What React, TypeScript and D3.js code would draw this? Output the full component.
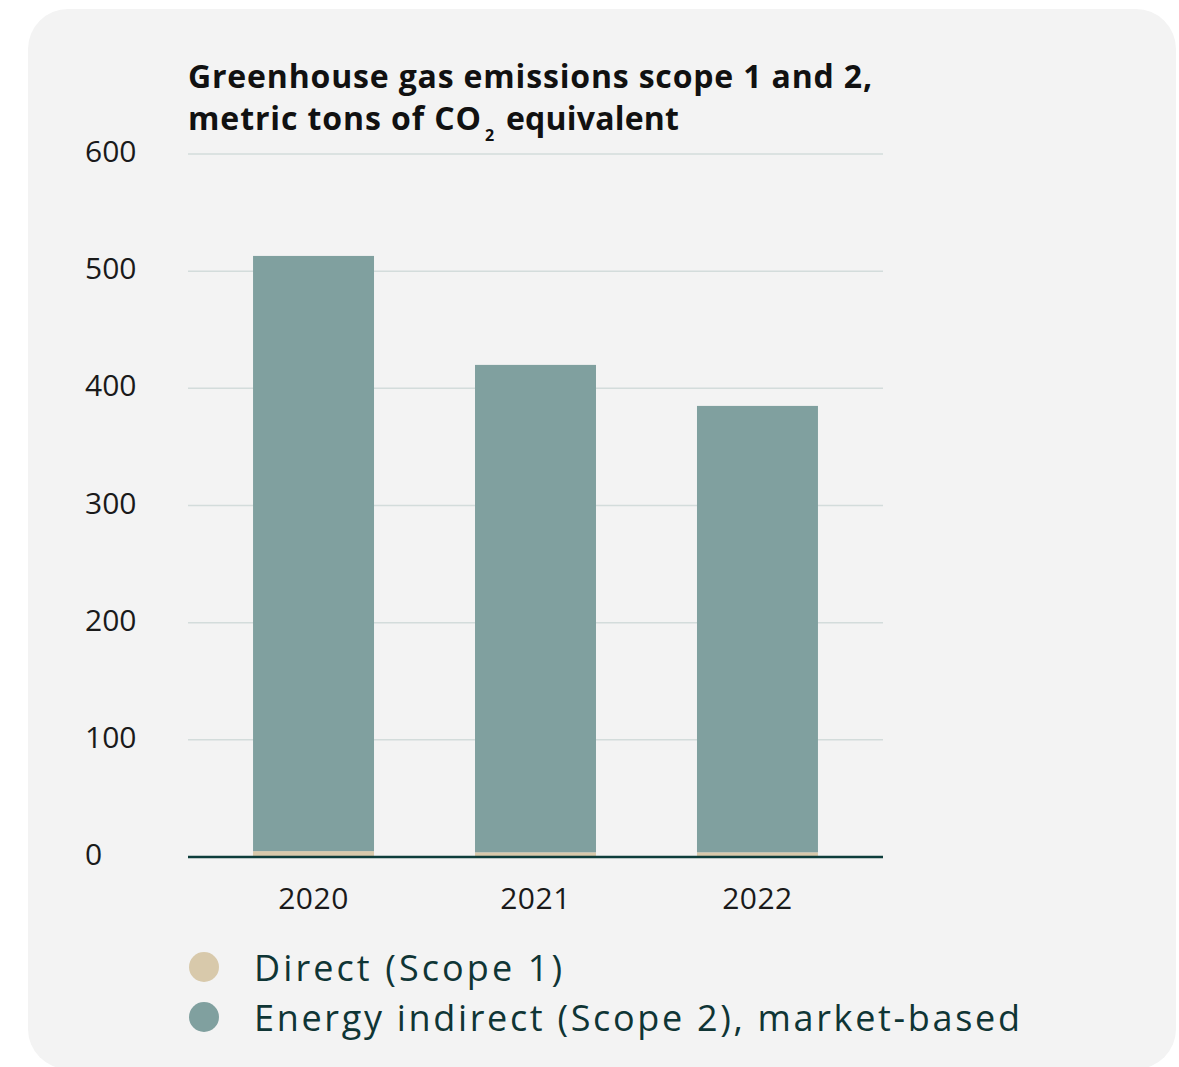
import React from "react";
import * as d3 from "d3";

const years = ["2020", "2021", "2022"];
const scope1 = [5, 4, 4];
const scope2 = [508, 416, 381];
const yTicks = [0, 100, 200, 300, 400, 500, 600];
const seriesNames = ["Direct (Scope 1)", "Energy indirect (Scope 2), market-based"];
const seriesColors = ["#d8c9ab", "#80a09f"];
const legendWidths = [308, 766];

const W = 1179;
const H = 1067;
const FONT = "'Open Sans', Lato, sans-serif";

export default function App() {
  const x = d3
    .scaleBand<string>()
    .domain(years)
    .range([188, 883])
    .paddingInner(0.455)
    .paddingOuter(0.293);
  const y = d3.scaleLinear().domain([0, 600]).range([857, 154]);

  const rows = years.map((yr, i) => ({ year: yr, s1: scope1[i], s2: scope2[i] }));
  const stack = d3.stack<any>().keys(["s1", "s2"])(rows);

  return (
    <svg
      width={W}
      height={H}
      style={{ position: "absolute", left: 0, top: 0, display: "block", background: "#ffffff" }}
    >
      <rect x={28} y={9} width={1148} height={1060} rx={40} ry={40} fill="#f3f3f3" />
      <g fontFamily={FONT} fontWeight={700} fill="#111">
        <text x={188} y={88} fontSize={32} textLength={684} lengthAdjust="spacing">
          Greenhouse gas emissions scope 1 and 2,
        </text>
        <text x={188} y={130} fontSize={32} textLength={293} lengthAdjust="spacing">
          metric tons of CO
        </text>
        <text x={485} y={141} fontSize={16}>
          2
        </text>
        <text x={506} y={130} fontSize={32} textLength={173} lengthAdjust="spacing">
          equivalent
        </text>
      </g>
      {yTicks.map((t) => (
        <g key={t}>
          {t > 0 && (
            <line x1={188} x2={883} y1={y(t)} y2={y(t)} stroke="#d3dcdb" strokeWidth={1.5} />
          )}
          <text x={85} y={y(t) + 8} fontFamily={FONT} fontSize={30} fill="#1a1a1a">
            {t}
          </text>
        </g>
      ))}
      {stack.map((layer, li) => (
        <g key={li} fill={seriesColors[li]}>
          {layer.map((d: any, i: number) => (
            <rect
              key={i}
              x={x(years[i])}
              width={x.bandwidth()}
              y={y(d[1])}
              height={y(d[0]) - y(d[1])}
            />
          ))}
        </g>
      ))}
      <line x1={188} x2={883} y1={y(0)} y2={y(0)} stroke="#0d3d3b" strokeWidth={2.5} />
      {years.map((yr) => (
        <text
          key={yr}
          x={(x(yr) as number) + x.bandwidth() / 2}
          y={909}
          textAnchor="middle"
          fontFamily={FONT}
          fontSize={30}
          letterSpacing={0.5}
          fill="#1a1a1a"
        >
          {yr}
        </text>
      ))}
      {seriesNames.map((n, i) => (
        <g key={n}>
          <circle cx={204} cy={967 + i * 50} r={15} fill={seriesColors[i]} />
          <text
            x={254}
            y={981 + i * 50}
            fontFamily={FONT}
            fontSize={36}
            fill="#0f3535"
            textLength={legendWidths[i]}
            lengthAdjust="spacing"
          >
            {n}
          </text>
        </g>
      ))}
    </svg>
  );
}
